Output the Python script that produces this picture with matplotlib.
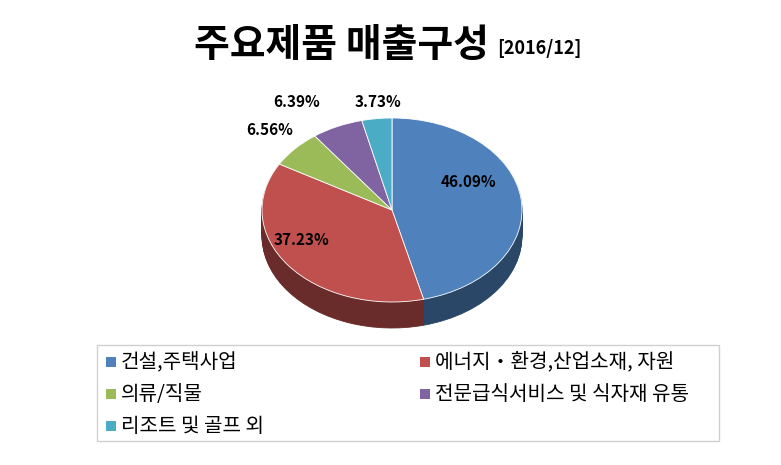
import matplotlib
matplotlib.use("Agg")
import matplotlib.pyplot as plt
from matplotlib.patches import Wedge, Rectangle
from matplotlib.transforms import Affine2D
import matplotlib.colors as mcolors

plt.rcParams['font.family'] = ['Noto Sans CJK KR', 'DejaVu Sans']

categories = ["건설,주택사업", "에너지・환경,산업소재, 자원", "의류/직물",
              "전문급식서비스 및 식자재 유통", "리조트 및 골프 외"]
shares = [46.09, 37.23, 6.56, 6.39, 3.73]
colors = ["#4F81BD", "#C0504D", "#9BBB59", "#8064A2", "#4BACC6"]
label_pos = [(468, 182), (302, 240), (270, 130), (297, 102), (378, 102)]

W, H = 781, 465
fig = plt.figure(figsize=(7.81, 4.65), dpi=100)
ax = fig.add_axes([0, 0, 1, 1])
ax.set_xlim(0, W)
ax.set_ylim(H, 0)
ax.axis("off")

cx, cy, rx, ry, depth = 392, 210, 130, 92, 26


def draw_pie(offset, shade):
    tr = Affine2D().scale(rx, -ry).translate(cx, cy + offset) + ax.transData
    total = sum(shares)
    cum = 0.0
    for v, c in zip(shares, colors):
        t1 = 90 - (cum + v) / total * 360
        t2 = 90 - cum / total * 360
        cum += v
        col = mcolors.to_rgb(c)
        col = tuple(x * shade for x in col)
        ax.add_patch(Wedge((0, 0), 1, t1, t2, facecolor=col,
                           edgecolor=col if shade < 1 else "white",
                           linewidth=0.6, transform=tr))


for d in range(depth, 0, -1):
    draw_pie(d, 0.55)
draw_pie(0, 1.0)

for (x, y), v in zip(label_pos, shares):
    ax.text(x, y, f"{v:.2f}%", fontsize=11, fontweight="bold", ha="center", va="center")

ax.text(341, 45, "주요제품 매출구성", fontsize=28, fontweight="bold", ha="center", va="center")
ax.text(539, 49, "[2016/12]", fontsize=13, fontweight="bold", ha="center", va="center")

# legend box
ax.add_patch(Rectangle((97, 345), 622, 96, facecolor="white", edgecolor="#d0d0d0", linewidth=1))
legend_xy = [(106, 362), (420, 362), (106, 394), (420, 394), (106, 426)]
for (x, y), c, name in zip(legend_xy, colors, categories):
    ax.add_patch(Rectangle((x, y - 5), 10, 10, facecolor=c, edgecolor="none"))
    ax.text(x + 15, y, name, fontsize=14.5, ha="left", va="center")

fig.savefig("out.png", dpi=100)
